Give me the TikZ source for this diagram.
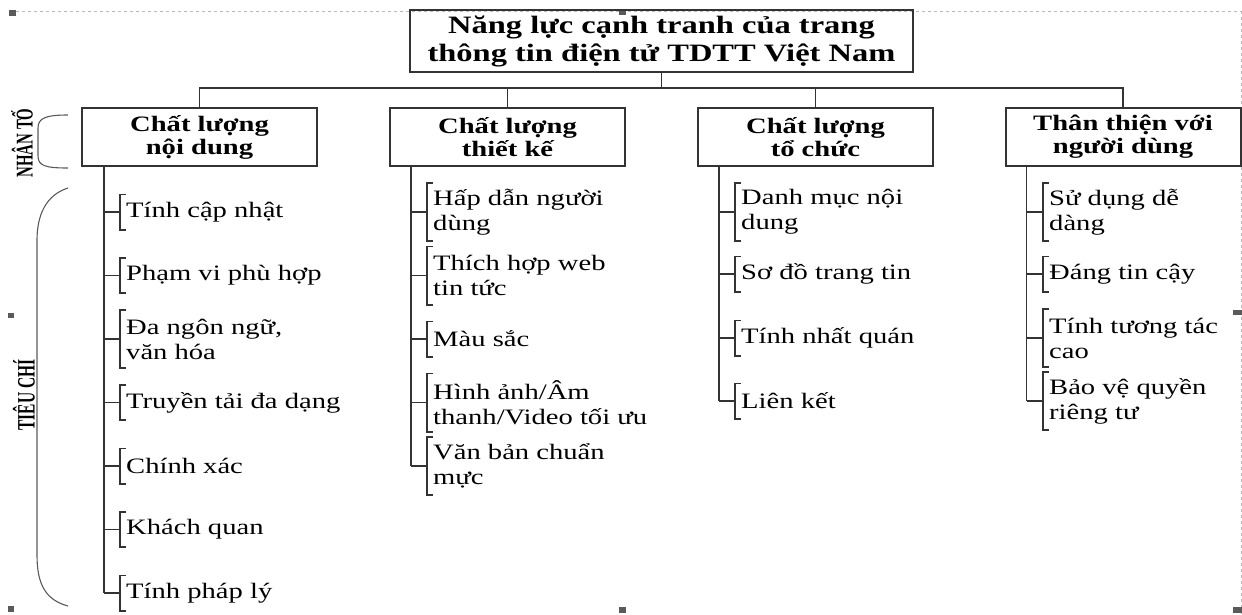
\documentclass[tikz,border=0pt]{standalone}
\usepackage{fontspec}
\setmainfont{Liberation Serif}[FakeStretch=1.3]
\newfontfamily\rotfont{Liberation Serif}[FakeStretch=0.62]
\definecolor{lc}{HTML}{333333}
\definecolor{hc}{HTML}{5A5A5A}
\tikzset{
  ln/.style={draw=lc, line width=1.9pt},
  box/.style={draw=lc, line width=2pt, minimum width=235pt, minimum height=58pt,
    align=center, inner sep=0pt, font=\fontsize{22}{23}\selectfont\bfseries},
  topbox/.style={box, minimum width=503pt, minimum height=62pt,
    font=\fontsize{25}{28}\selectfont\bfseries},
  leaf/.style={anchor=west, inner xsep=6pt, inner ysep=0pt, minimum height=35pt,
    align=left, font=\fontsize{22}{25}\selectfont},
  leaftwo/.style={leaf, minimum height=58pt},
  brk/.style={draw=lc, line width=1.6pt},
  brace/.style={draw=hc, line width=1.1pt},
  handle/.style={fill=hc, draw=none},
  sel/.style={draw=gray!55, dashed, line width=0.6pt},
  rotlabel/.style={rotate=90, inner sep=0pt}
}
\newcommand\leafhook[2]{%
  \draw[ln] (#2 |- #1.west) -- (#1.west);
  \draw[brk] ([xshift=6pt]#1.north west) -- (#1.north west) -- (#1.south west) -- ([xshift=6pt]#1.south west);}
\begin{document}
\begin{tikzpicture}[x=1pt,y=-1pt]
\useasboundingbox (0,0) rectangle (1242,614);
% selection frame artefacts
\draw[sel] (10,11) -- (1242,11);
\draw[sel] (1241,11) -- (1241,614);
\fill[handle] (9,10) rectangle (16,16);
\fill[handle] (8,313) rectangle (14,318);
\fill[handle] (8,606) rectangle (14,612);
\fill[handle] (619,10) rectangle (626,15);
\fill[handle] (619,607) rectangle (626,613);
\fill[handle] (1233,310) rectangle (1242,315);
\fill[handle] (1233,607) rectangle (1242,613);

% boxes
\node[topbox] (root) at (661.5,41) {Năng lực cạnh tranh của trang\\thông tin điện tử TDTT Việt Nam};
\node[box] (c1) at (199.5,137) {Chất lượng\\nội dung};
\node[box] (c2) at (507.5,137) {Chất lượng\\thiết kế};
\node[box] (c3) at (815.5,137) {Chất lượng\\tổ chức};
\node[box] (c4) at (1123,137) {Thân thiện với\\người dùng};

\coordinate (bus) at (0,88);
\draw[ln] (root.south) -- (root.south |- bus);
\draw[ln] (c1.north) -- (c1.north |- bus) -- (c4.north |- bus) -- (c4.north);
\draw[ln] (c2.north) -- (c2.north |- bus);
\draw[ln] (c3.north) -- (c3.north |- bus);

% trunks
\coordinate (t1) at ([xshift=23pt]c1.south west);
\coordinate (t2) at ([xshift=22pt]c2.south west);
\coordinate (t3) at ([xshift=22pt]c3.south west);
\coordinate (t4) at ([xshift=22pt]c4.south west);

% column 1
\node[leaf]    (a1) at (120,212)   {Tính cập nhật};
\node[leaf]    (a2) at (120,275.5) {Phạm vi phù hợp};
\node[leaftwo] (a3) at (120,339)   {Đa ngôn ngữ,\\văn hóa};
\node[leaf]    (a4) at (120,402.5) {Truyền tải đa dạng};
\node[leaf]    (a5) at (120,466)   {Chính xác};
\node[leaf]    (a6) at (120,529.5) {Khách quan};
\node[leaf]    (a7) at (120,593)   {Tính pháp lý};
\draw[ln] (t1) -- (t1 |- a7.west);
\foreach \n in {a1,a2,a3,a4,a5,a6,a7} {\leafhook{\n}{t1}}

% column 2
\node[leaftwo] (b1) at (427,212)   {Hấp dẫn người\\dùng};
\node[leaftwo] (b2) at (427,275.5) {Thích hợp web\\tin tức};
\node[leaf]    (b3) at (427,339)   {Màu sắc};
\node[leaftwo] (b4) at (427,402.5) {Hình ảnh/Âm\\thanh/Video tối ưu};
\node[leaftwo] (b5) at (427,466)   {Văn bản chuẩn\\mực};
\draw[ln] (t2) -- (t2 |- b5.west);
\foreach \n in {b1,b2,b3,b4,b5} {\leafhook{\n}{t2}}

% column 3
\node[leaftwo] (d1) at (735,212)   {Danh mục nội\\dung};
\node[leaf]    (d2) at (735,274)   {Sơ đồ trang tin};
\node[leaf]    (d3) at (735,338)   {Tính nhất quán};
\node[leaf]    (d4) at (735,401)   {Liên kết};
\draw[ln] (t3) -- (t3 |- d4.west);
\foreach \n in {d1,d2,d3,d4} {\leafhook{\n}{t3}}

% column 4
\node[leaftwo] (e1) at (1043,212)  {Sử dụng dễ\\dàng};
\node[leaf]    (e2) at (1043,274)  {Đáng tin cậy};
\node[leaftwo] (e3) at (1043,338)  {Tính tương tác\\cao};
\node[leaftwo] (e4) at (1043,401)  {Bảo vệ quyền\\riêng tư};
\draw[ln] (t4) -- (t4 |- e4.west);
\foreach \n in {e1,e2,e3,e4} {\leafhook{\n}{t4}}

% side labels and braces
\node[rotlabel, font=\rotfont\bfseries\fontsize{24}{24}\selectfont] (nt) at (22,143) {NHÂN TỐ};
\node[rotlabel, font=\rotfont\bfseries\fontsize{25}{25}\selectfont] (tc) at (24,395) {TIÊU CHÍ};
\draw[brace] (68,115) .. controls (46,115) and (38,118) .. (38,128) -- (38,156) .. controls (38,166) and (46,168) .. (68,168);
\draw[brace] (68,188) .. controls (46,195) and (37,215) .. (37,240) -- (37,555) .. controls (37,585) and (46,600) .. (68,606);
\end{tikzpicture}
\end{document}
